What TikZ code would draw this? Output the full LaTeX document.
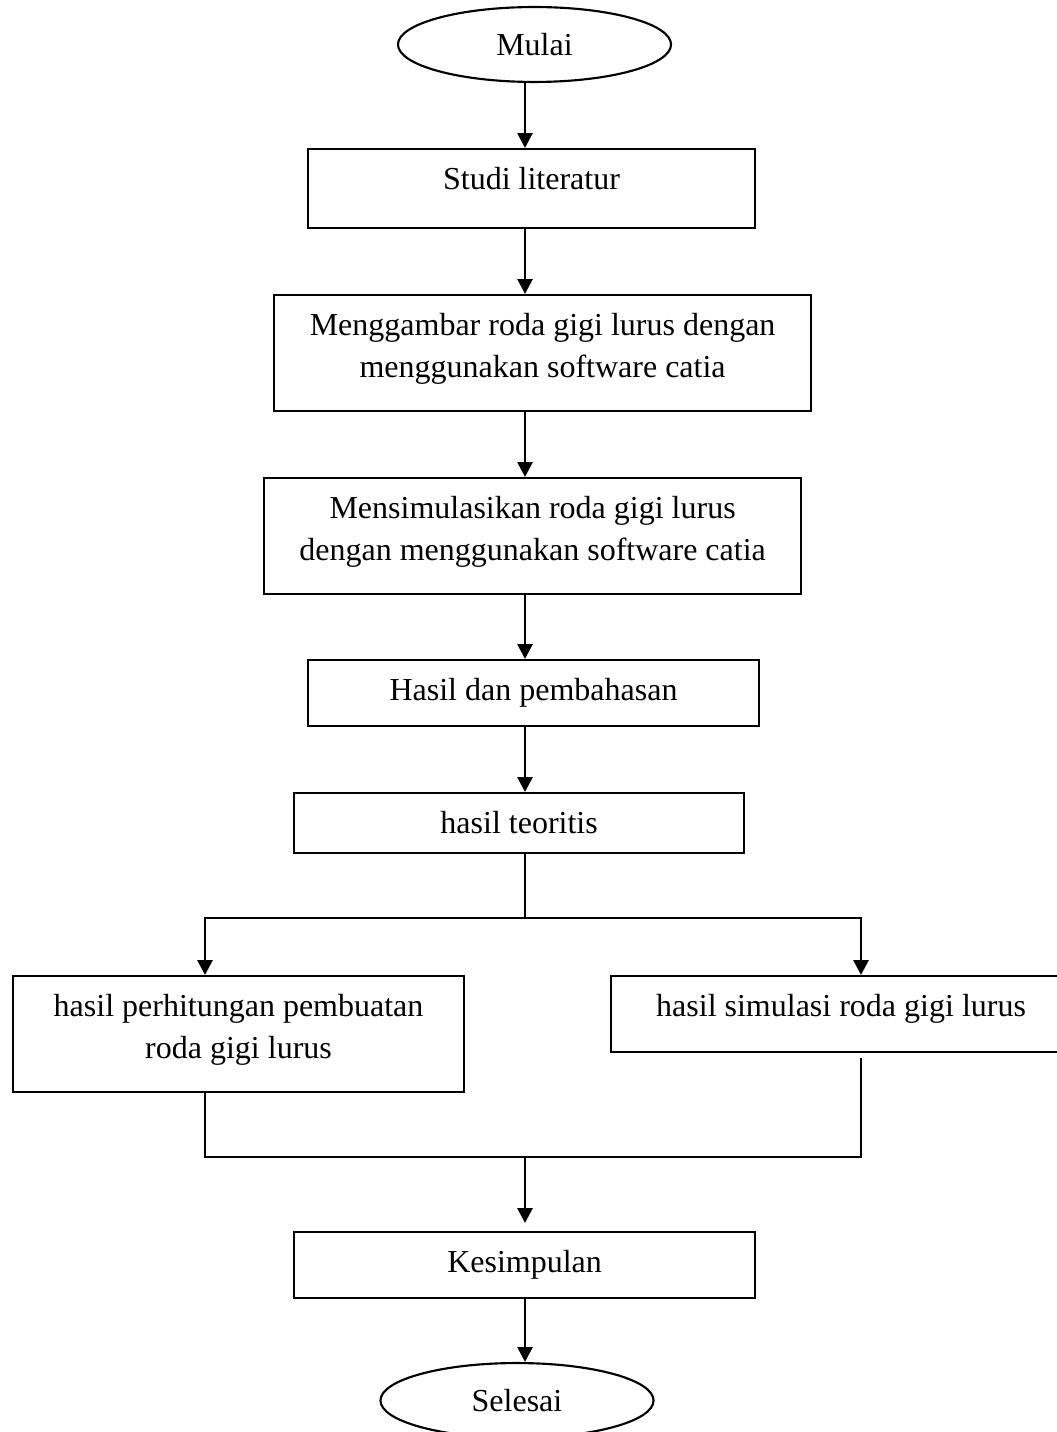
\documentclass[tikz,border=0pt]{standalone}
\usepackage{fontspec}
\setmainfont{Liberation Serif}
\usepackage{tikz}
\usetikzlibrary{arrows.meta,shapes.geometric}
\tikzset{
  stepbox/.style={
    rectangle,
    draw=black,
    line width=0.8pt,
    anchor=north west,
    align=center,
    inner xsep=0pt,
    inner ysep=0pt,
    text height=15pt,
    font=\fontsize{12}{15.75}\selectfont
  },
  twoline/.style={text height=30.75pt, text depth=12.75pt},
  terminal/.style={
    ellipse,
    draw=black,
    line width=0.8pt,
    inner sep=0pt,
    minimum width=102.4pt,
    minimum height=28.1pt,
    font=\fontsize{12}{15.75}\selectfont
  },
  line/.style={-{Triangle[length=5.6pt,width=5.6pt]}, line width=1.05pt, draw=black},
  link/.style={line width=0.8pt, draw=black}
}

\begin{document}
\begin{tikzpicture}[x=0.375pt, y=-0.375pt]
  \useasboundingbox (0,0) rectangle (1057,1432);
  \coordinate (spine) at (525,0);
  \coordinate (split) at (525,918);
  \coordinate (lft) at (205,918);
  \coordinate (rgt) at (861,918);
  \coordinate (merge) at (525,1157);

  \node[terminal] (mulai) at (534.5,44.5) {Mulai};
  \node[stepbox, minimum width=167.6pt, text depth=14.6pt] (studi) at (307,148) {Studi literatur};
  \node[stepbox, twoline, minimum width=201.4pt] (gambar) at (273,294) {Menggambar roda gigi lurus dengan\\menggunakan software catia};
  \node[stepbox, twoline, minimum width=201.4pt] (simulasi) at (263,477) {Mensimulasikan roda gigi lurus\\dengan menggunakan software catia};
  \node[stepbox, minimum width=169.1pt, text depth=9.75pt] (bahas) at (307,659) {Hasil dan pembahasan};
  \node[stepbox, minimum width=168.8pt, text depth=7.5pt] (teori) at (293,792) {hasil teoritis};
  \node[stepbox, twoline, minimum width=169.1pt] (hitung) at (12,975) {hasil perhitungan pembuatan\\roda gigi lurus};
  \node[stepbox, minimum width=172.5pt, text depth=13.5pt] (simhasil) at (610,975) {hasil simulasi roda gigi lurus};
  \node[stepbox, minimum width=172.9pt, text depth=9.75pt] (simpul) at (293,1231) {Kesimpulan};
  \node[terminal] (selesai) at (517,1400.5) {Selesai};

  \draw[line] (mulai.south -| spine) -- (studi.north -| spine);
  \draw[line] (studi.south -| spine) -- (gambar.north -| spine);
  \draw[line] (gambar.south -| spine) -- (simulasi.north -| spine);
  \draw[line] (simulasi.south -| spine) -- (bahas.north -| spine);
  \draw[line] (bahas.south -| spine) -- (teori.north -| spine);
  \draw[link] (teori.south -| spine) -- (split);
  \draw[line] (split) -| (hitung.north -| lft);
  \draw[line] (split) -| (simhasil.north -| rgt);
  \draw[link] (hitung.south -| lft) |- (merge);
  \draw[link, shorten <=1.9pt] (simhasil.south -| rgt) |- (merge);
  \draw[line, shorten >=3pt] (merge) -- (simpul.north -| spine);
  \draw[line] (simpul.south -| spine) -- (selesai.north -| spine);
\end{tikzpicture}
\end{document}
